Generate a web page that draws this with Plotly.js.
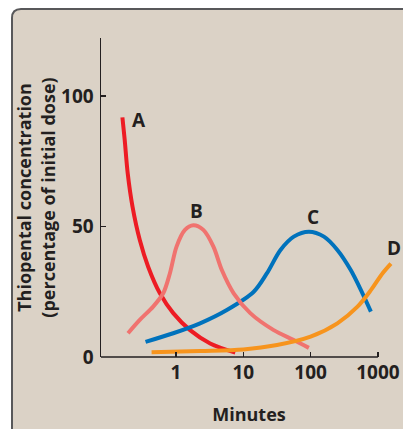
<!DOCTYPE html>
<html>
<head>
<meta charset="utf-8">
<script src="https://cdn.plot.ly/plotly-3.0.1.min.js"></script>
<style>html,body{margin:0;padding:0;background:#fff;}#chart{width:403px;height:429px;}</style>
</head>
<body>
<div id="chart"></div>
<script>
// Curve A (red)
var aMinutes = [0.160, 0.173, 0.192, 0.226, 0.290, 0.386, 0.577, 0.911, 1.62, 3.22, 7.6];
var aConc    = [91.8, 83.2, 70.3, 57.6, 44.8, 34.6, 24.4, 16.8, 10.3, 5.2, 1.7];
// Curve B (salmon)
var bMinutes = [0.194, 0.29, 0.458, 0.646, 0.813, 1.02, 1.36, 1.81, 2.55, 3.6, 4.8, 7.2, 12.7, 28.3, 56.3, 94.3];
var bConc    = [9.1, 14.2, 19.3, 24.4, 32.1, 42.3, 48.7, 50.5, 48.7, 42.3, 33.3, 24.4, 16.8, 10.3, 6.5, 3.5];
// Curve C (blue)
var cMinutes = [0.353, 0.91, 2.28, 5.7, 14.3, 22.5, 35.7, 56.3, 94.3, 158, 250, 395, 590, 787];
var cConc    = [5.8, 9.1, 12.9, 18.0, 25.0, 32.1, 41.0, 46.1, 48.0, 46.1, 41.0, 33.3, 24.4, 17.4];
// Curve D (orange)
var dMinutes = [0.434, 2.28, 10, 31.7, 100, 250, 498, 787, 1175, 1563];
var dConc    = [1.8, 2.3, 2.9, 4.6, 7.8, 12.9, 19.3, 25.6, 32.1, 35.8];

var curveNames = ['A', 'B', 'C', 'D'];
var curveColors = ['#ed1c24', '#f0736f', '#0072bc', '#f7941d'];
var labelMinutes = [0.28, 1.99, 107, 1734];
var labelConc = [90.8, 55.9, 53.6, 41.8];

var xTickVals = [1, 10, 100, 1000];
var xTickText = ['1', '10', '100', '1000'];
var yTickVals = [0, 50, 100];
var yTickText = ['0', '50', '100'];

var ink = '#231f20';
var fontFam = '"Open Sans", "DejaVu Sans", sans-serif';

var W = 403, H = 429, mL = 101, mR = 6, mT = 38, mB = 72;
var pw = W - mL - mR, ph = H - mT - mB;
function px(x) { return (x - mL) / pw; }
function py(y) { return (H - mB - y) / ph; }

var xs = [aMinutes, bMinutes, cMinutes, dMinutes];
var ys = [aConc, bConc, cConc, dConc];
var order = [0, 2, 1, 3];
var traces = order.map(function (i) {
  return {
    x: xs[i], y: ys[i], type: 'scatter', mode: 'lines', name: curveNames[i],
    line: {color: curveColors[i], width: 4, shape: 'spline', smoothing: 0.9},
    hoverinfo: 'skip'
  };
});

var xMin = Math.pow(10, -1.114);
var annotations = curveNames.map(function (n, i) {
  return {
    x: Math.log10(labelMinutes[i]), y: labelConc[i], xref: 'x', yref: 'y',
    text: n, showarrow: false,
    font: {family: fontFam, size: 19, color: ink, weight: 700}
  };
});

var panelPath = 'M ' + px(12) + ',' + py(445) + ' L ' + px(12) + ',' + py(18) +
  ' Q ' + px(12) + ',' + py(9) + ' ' + px(21) + ',' + py(9) +
  ' L ' + px(415) + ',' + py(9) + ' L ' + px(415) + ',' + py(445) + ' Z';

var layout = {
  width: W, height: H,
  margin: {l: mL, r: mR, t: mT, b: mB, pad: 0},
  paper_bgcolor: '#ffffff',
  plot_bgcolor: 'rgba(0,0,0,0)',
  showlegend: false,
  font: {family: fontFam, color: ink},
  xaxis: {
    type: 'log', range: [-1.114, 3.284],
    showline: false, showgrid: false, zeroline: false,
    ticks: 'inside', ticklen: 5, tickwidth: 1.5, tickcolor: ink,
    tickvals: xTickVals, ticktext: xTickText,
    ticklabelstandoff: 2,
    tickfont: {family: fontFam, size: 19, color: ink, weight: 700},
    title: {text: 'Minutes', standoff: 24, font: {family: fontFam, size: 18, color: ink, weight: 700}},
    fixedrange: true
  },
  yaxis: {
    range: [0, 122.2],
    showline: true, linecolor: ink, linewidth: 1.5,
    showgrid: false, zeroline: false,
    ticks: 'inside', ticklen: 5, tickwidth: 1.5, tickcolor: ink,
    tickvals: yTickVals, ticktext: yTickText,
    ticklabelstandoff: 2,
    tickfont: {family: fontFam, size: 19, color: ink, weight: 700},
    title: {text: 'Thiopental concentration<br>(percentage of initial dose)', standoff: 1,
            font: {family: fontFam, size: 18, color: ink, weight: 700}},
    fixedrange: true
  },
  shapes: [
    {type: 'path', xref: 'paper', yref: 'paper', path: panelPath, layer: 'below',
     fillcolor: '#dbd2c6', line: {color: '#58585a', width: 2}},
    {type: 'line', xref: 'x', yref: 'paper', x0: xMin, x1: 1000, y0: 0, y1: 0,
     layer: 'above', line: {color: ink, width: 1.5}}
  ],
  annotations: annotations
};

Plotly.newPlot('chart', traces, layout, {displayModeBar: false, staticPlot: true});
</script>
</body>
</html>
